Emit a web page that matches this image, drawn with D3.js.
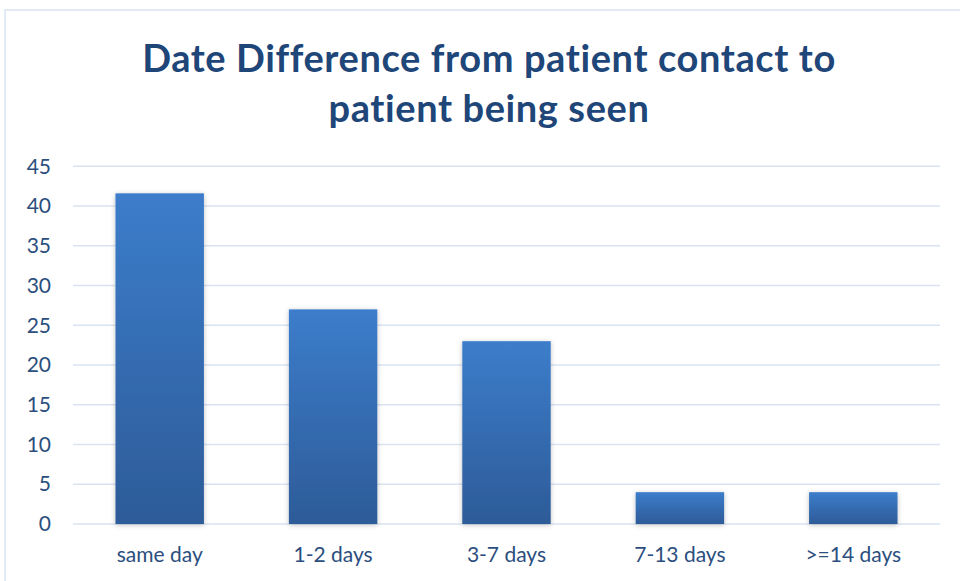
<!DOCTYPE html>
<html>
<head>
<meta charset="utf-8">
<script src="https://cdn.jsdelivr.net/npm/d3@7"></script>
<style>
  body { margin: 0; background: #fff; }
  text { font-family: Lato, "Open Sans", sans-serif; }
</style>
</head>
<body>
<div class="chart"></div>
<script>
var categories = ['same day', '1-2 days', '3-7 days', '7-13 days', '>=14 days'];
var values = [41.6, 27, 23, 4, 4];
var yTicks = [0, 5, 10, 15, 20, 25, 30, 35, 40, 45];
var titleLines = ['Date Difference from patient contact to', 'patient being seen'];

var width = 960, height = 581;
var plot = {left: 73, right: 940, top: 166.3, bottom: 524};

var svg = d3.select('.chart')
  .append('svg')
  .attr('width', width)
  .attr('height', height);

// gradient + shadow for bars
var defs = svg.append('defs');
var grad = defs.append('linearGradient')
  .attr('id', 'barGrad')
  .attr('x1', 0).attr('y1', 0).attr('x2', 0).attr('y2', 1);
grad.append('stop').attr('offset', '0%').attr('stop-color', '#3c7dcb');
grad.append('stop').attr('offset', '100%').attr('stop-color', '#2d5b98');

var shadow = defs.append('filter').attr('id', 'shadow')
  .attr('x', '-20%').attr('y', '-20%').attr('width', '140%').attr('height', '140%');
shadow.append('feDropShadow')
  .attr('dx', 0).attr('dy', 1).attr('stdDeviation', 2.5)
  .attr('flood-color', '#000').attr('flood-opacity', 0.25);

// outer border
svg.append('rect')
  .attr('x', 5).attr('y', 10)
  .attr('width', 970).attr('height', 600)
  .attr('fill', 'none')
  .attr('stroke', '#d9e3f1')
  .attr('stroke-width', 1.5);

// title
svg.append('text')
  .attr('x', 489)
  .attr('y', 72)
  .attr('text-anchor', 'middle')
  .attr('fill', '#1f4678')
  .style('font-weight', 'bold')
  .style('font-size', '38px')
  .style('letter-spacing', '0.6px')
  .selectAll('tspan')
  .data(titleLines)
  .enter()
  .append('tspan')
  .attr('x', 489)
  .attr('dy', (d, i) => i === 0 ? 0 : 50)
  .text(d => d);

var xScale = d3.scaleBand()
  .domain(categories)
  .range([plot.left, plot.right])
  .paddingInner(0.49)
  .paddingOuter(0.245);

var yScale = d3.scaleLinear()
  .domain([0, 45])
  .range([plot.bottom, plot.top]);

// gridlines
svg.append('g')
  .selectAll('line')
  .data(yTicks)
  .enter()
  .append('line')
  .attr('x1', plot.left)
  .attr('x2', plot.right)
  .attr('y1', d => yScale(d))
  .attr('y2', d => yScale(d))
  .attr('stroke', '#d9e3f1')
  .attr('stroke-width', 1.5);

// y axis labels
var yAxis = d3.axisLeft(yScale).tickValues(yTicks).tickSize(0).tickPadding(0);
svg.append('g')
  .attr('transform', 'translate(51,0)')
  .call(yAxis)
  .call(g => g.select('.domain').remove())
  .call(g => g.selectAll('text')
    .attr('fill', '#2b4e7e')
    .style('font-size', '21px')
    .style('font-family', 'Lato, "Open Sans", sans-serif'));

// bars
svg.append('g')
  .selectAll('rect')
  .data(values)
  .enter()
  .append('rect')
  .attr('x', (d, i) => xScale(categories[i]))
  .attr('y', d => yScale(d))
  .attr('width', xScale.bandwidth())
  .attr('height', d => plot.bottom - yScale(d))
  .attr('fill', 'url(#barGrad)')
  .attr('filter', 'url(#shadow)');

// x axis labels
var xAxis = d3.axisBottom(xScale).tickSize(0).tickPadding(0);
svg.append('g')
  .attr('transform', 'translate(0,' + (plot.bottom + 23) + ')')
  .call(xAxis)
  .call(g => g.select('.domain').remove())
  .call(g => g.selectAll('text')
    .attr('fill', '#2b4e7e')
    .style('font-size', '21px')
    .style('font-family', 'Lato, "Open Sans", sans-serif'));
</script>
</body>
</html>
